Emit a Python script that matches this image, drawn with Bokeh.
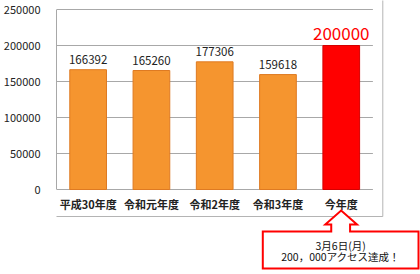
from bokeh.plotting import figure
from bokeh.models import ColumnDataSource, Range1d, BasicTickFormatter
from bokeh.core.properties import value
from bokeh.embed import file_html
from bokeh.resources import INLINE

categories = ["平成30年度", "令和元年度", "令和2年度", "令和3年度", "今年度"]
values = [166392, 165260, 177306, 159618, 200000]
bar_colors = ["#F5952F", "#F5952F", "#F5952F", "#F5952F", "#FF0000"]
line_colors = ["#DE7A22", "#DE7A22", "#DE7A22", "#DE7A22", "#D40000"]
label_colors = ["#222222", "#222222", "#222222", "#222222", "#FF0000"]
label_sizes = ["11.5px", "11.5px", "11.5px", "11.5px", "17px"]
y_ticks = [0, 50000, 100000, 150000, 200000, 250000]
callout_lines = ["3月6日(月)", "200，000アクセス達成！"]

FONT = "Noto Sans CJK JP"

W, H = 420, 274
PL, PR, PT, PB = 53, 372, 9, 189      # plot area in canvas pixels
Y_MAX = 250000
CAT_W = (PR - PL) / len(categories)
UNIT = Y_MAX / (PB - PT)


def dx(cx):
    return (cx - PL) / CAT_W


def dy(cy):
    return (PB - cy) * UNIT


p = figure(width=W, height=H,
           x_range=Range1d(dx(PL), dx(W)), y_range=Range1d(dy(H), dy(0)),
           output_backend="svg", toolbar_location=None,
           min_border_left=PL, min_border_right=0, min_border_top=0, min_border_bottom=0,
           x_axis_location=None)
p.outline_line_color = None
p.background_fill_color = "white"
p.border_fill_color = "white"
p.xgrid.grid_line_color = None
p.ygrid.grid_line_color = None

# outer chart border (right and bottom edges visible)
p.line(x=[dx(382), dx(382), dx(0)], y=[dy(-5), dy(216), dy(216)], line_color="#B4B4B4",
       line_width=1)

# horizontal gridlines and baseline
p.segment(x0=[dx(PL)] * len(y_ticks), x1=[dx(PR)] * len(y_ticks), y0=y_ticks, y1=y_ticks,
          line_color="#A8A8A8", line_width=1)

xs = [i + 0.5 for i in range(len(categories))]
src = ColumnDataSource(dict(x=xs, cat=categories, val=values, fill=bar_colors, line=line_colors,
                            lab=[str(v) for v in values], lc=label_colors, ls=label_sizes))

p.vbar(x="x", top="val", bottom=0, width=0.58, source=src, fill_color="fill",
       line_color="line", line_width=1)

p.text(x="x", y="val", text="lab", source=src, text_color="lc", text_font_size="ls",
       text_align="center", text_baseline="bottom", y_offset=-6, text_font=value(FONT))

# category labels
p.text(x="x", y=dy(203), text="cat", source=src, text_color="#222222", text_font_size="11px",
       text_font_style="bold", text_align="center", text_baseline="middle",
       text_font=value(FONT))

# y axis
yax = p.yaxis[0]
yax.ticker = y_ticks
yax.bounds = (0, Y_MAX)
yax.formatter = BasicTickFormatter(use_scientific=False)
yax.axis_line_color = "#A8A8A8"
yax.major_tick_line_color = None
yax.minor_tick_line_color = None
yax.major_label_standoff = 10
yax.major_label_text_font = FONT
yax.major_label_text_font_size = "11px"
yax.major_label_text_color = "#222222"

# callout arrow + box
pts = [(261, 231), (330, 231), (330, 224), (324, 224), (340, 210), (356, 224), (349, 224),
       (349, 231), (418, 231), (418, 268), (261, 268), (261, 231)]
p.patch(x=[dx(a) for a, b in pts], y=[dy(b) for a, b in pts], fill_color="white",
        line_color="#FF0000", line_width=2, line_join="miter")

p.text(x=[dx(339.5)] * 2, y=[dy(245), dy(256)], text=callout_lines, text_color="#111111",
       text_font_size="10.5px", text_align="center", text_baseline="middle",
       text_font=value(FONT))

open("out.html", "w").write(file_html(p, INLINE))
